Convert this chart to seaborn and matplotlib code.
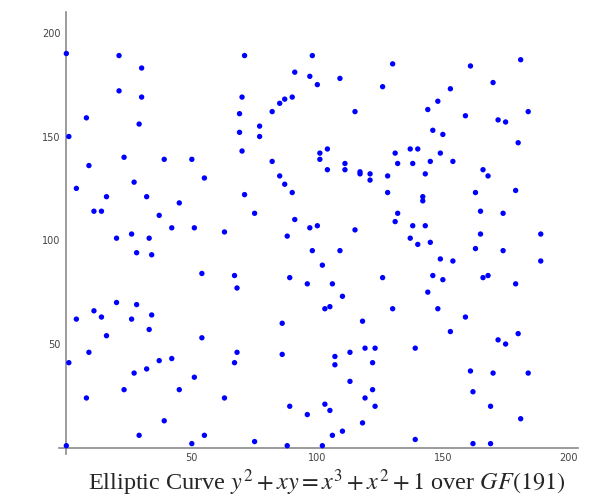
import matplotlib
matplotlib.use("Agg")
import matplotlib.pyplot as plt
import seaborn as sns
from matplotlib.ticker import MultipleLocator

# points (x, then the y values at that x)
x_vals = [0, 0, 1, 1, 4, 4, 8, 8, 9, 9, 11, 11, 14, 14, 16, 16, 20, 20, 21, 21,
          23, 23, 26, 26, 27, 27, 28, 28, 29, 29, 30, 30, 32, 32, 33, 33, 34, 34,
          37, 37, 39, 39, 42, 42, 45, 45, 50, 50, 51, 51, 54, 54, 55, 55, 63, 63,
          67, 67, 68, 68, 69, 69, 70, 70, 71, 71, 75, 75, 77, 77, 82, 82, 85, 85,
          86, 86, 87, 87, 88, 88, 89, 89, 90, 90, 91, 91, 96, 96, 97, 97, 98, 98,
          100, 100, 101, 101, 102, 102, 103, 103, 104, 104, 105, 105, 106, 106,
          107, 107, 109, 109, 110, 110, 111, 111, 113, 113, 115, 115, 117, 117,
          118, 118, 119, 119, 121, 121, 122, 122, 123, 123, 126, 126, 128, 128,
          130, 130, 131, 131, 132, 132, 137, 137, 138, 138, 139, 139, 140, 140,
          142, 142, 143, 143, 144, 144, 145, 145, 146, 146, 148, 148, 149, 149,
          150, 150, 153, 153, 154, 154, 159, 159, 161, 161, 162, 162, 163, 163,
          165, 165, 166, 166, 168, 168, 169, 169, 170, 170, 172, 172, 174, 174,
          175, 175, 179, 179, 180, 180, 181, 181, 184, 184, 189, 189]
y_vals = [190, 1, 150, 41, 125, 62, 159, 24, 136, 46, 114, 66, 114, 63, 121, 54,
          101, 70, 189, 172, 140, 28, 103, 62, 128, 36, 94, 69, 156, 6, 183, 169,
          121, 38, 101, 57, 93, 64, 112, 42, 139, 13, 106, 43, 118, 28, 139, 2,
          106, 34, 84, 53, 130, 6, 104, 24, 83, 41, 77, 46, 161, 152, 169, 143,
          189, 122, 113, 3, 155, 150, 162, 138, 166, 131, 60, 45, 168, 127, 102, 1,
          82, 20, 169, 123, 181, 110, 79, 16, 179, 106, 189, 95, 175, 107, 142, 139,
          88, 1, 67, 21, 144, 134, 68, 18, 79, 6, 44, 40, 178, 95, 73, 8, 137, 134,
          46, 32, 162, 105, 133, 132, 61, 12, 48, 24, 132, 129, 41, 28, 48, 20,
          174, 82, 131, 123, 185, 67, 142, 109, 137, 113, 144, 101, 137, 107, 48, 4,
          144, 98, 121, 119, 132, 107, 163, 75, 138, 99, 153, 83, 167, 67, 142, 91,
          151, 81, 173, 56, 138, 90, 160, 63, 184, 37, 27, 2, 123, 96, 114, 103,
          134, 82, 131, 83, 20, 2, 176, 36, 158, 52, 113, 95, 157, 50, 124, 79,
          147, 55, 187, 14, 162, 36, 103, 90]
tick_vals = [50, 100, 150, 200]
titulo = r"Elliptic Curve $y^2+xy=x^3+x^2+1$ over $GF(191)$"

sns.set_style("white")
plt.rcParams["mathtext.fontset"] = "stix"

fig = plt.figure(figsize=(6, 5), dpi=100)
ax = fig.add_axes([0.098, 0.092, 0.866, 0.884])

sns.scatterplot(x=x_vals, y=y_vals, color="#0000ff", s=15, edgecolor="none", ax=ax, zorder=3)

ax.set_xlim(-3, 204)
ax.set_ylim(-3, 210)

# eixos cruzando na origem, estilo sage
for lado in ["top", "right"]:
    ax.spines[lado].set_visible(False)
ax.spines["left"].set_position(("data", 0))
ax.spines["bottom"].set_position(("data", 0))
for lado in ["left", "bottom"]:
    ax.spines[lado].set_color("#8a8a8a")
    ax.spines[lado].set_linewidth(1.2)

ax.set_xticks(tick_vals)
ax.set_yticks(tick_vals)
ax.xaxis.set_minor_locator(MultipleLocator(10))
ax.yaxis.set_minor_locator(MultipleLocator(10))
ax.tick_params(which="major", direction="inout", length=6, width=1, color="#8a8a8a",
               labelsize=7, labelcolor="#444444", pad=1)
ax.tick_params(which="minor", direction="inout", length=3, width=0.8, color="#8a8a8a")
ax.set_xlabel("")
ax.set_ylabel("")

fig.text(0.147, 0.034, titulo, ha="left", va="center", fontsize=17.5,
         family="Liberation Serif")

plt.savefig("out.png", dpi=100)
